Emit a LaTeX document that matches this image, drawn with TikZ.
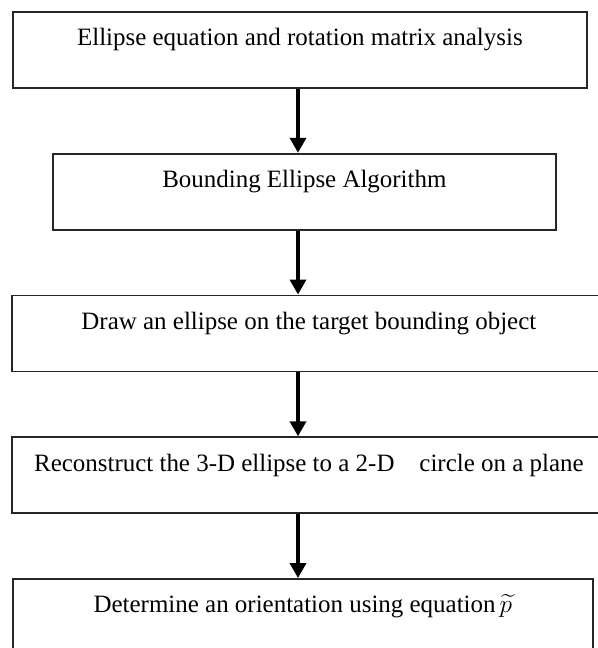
\documentclass[tikz,border=0pt]{standalone}
\usepackage{fontspec}
\setmainfont{Liberation Serif}
\usepackage{amsmath,amssymb}
\usepackage{tikz}
\usetikzlibrary{arrows.meta, positioning, calc}

\begin{document}
\begin{tikzpicture}[
    node distance=1.28cm,
    stepbox/.style={rectangle, draw=black!85, line width=1pt, anchor=north west, minimum height=1.52cm, inner xsep=0pt, inner ysep=0pt, text height=0.68cm, text depth=0.84cm, font=\fontsize{14.2}{17}\selectfont},
    arrow/.style={line width=2pt, -{Triangle[length=0.3cm, width=0.32cm]}}
]
    \useasboundingbox (0,0) rectangle (11.94,-12.96);

    \node [stepbox, minimum width=11.48cm] (analysis) at (0.24,-0.22) {Ellipse equation and rotation matrix analysis};

    \node [stepbox, minimum width=10.06cm, below=of analysis.south west, anchor=north west, xshift=0.80cm] (bounding) {Bounding Ellipse Algorithm};

    \node [stepbox, minimum width=11.88cm, below=of bounding.south west, anchor=north west, xshift=-0.82cm] (draw) {Draw an ellipse on the target bounding object};

    \node [stepbox, minimum width=11.88cm, below=of draw.south west, anchor=north west] (reconstruct) {Reconstruct the 3-D ellipse to a 2-D\ \ \ \ circle on a plane};

    \node [stepbox, minimum width=11.60cm, below=of reconstruct.south west, anchor=north west, xshift=0.02cm] (orient) {Determine an orientation using equation\,$\widetilde{p}$};

    % arrows all run down one column
    \coordinate (spine) at (5.96,0);

    \draw [arrow] (analysis.south -| spine) -- (bounding.north -| spine);
    \draw [arrow] (bounding.south -| spine) -- (draw.north -| spine);
    \draw [arrow] (draw.south -| spine) -- (reconstruct.north -| spine);
    \draw [arrow] (reconstruct.south -| spine) -- (orient.north -| spine);
\end{tikzpicture}
\end{document}
